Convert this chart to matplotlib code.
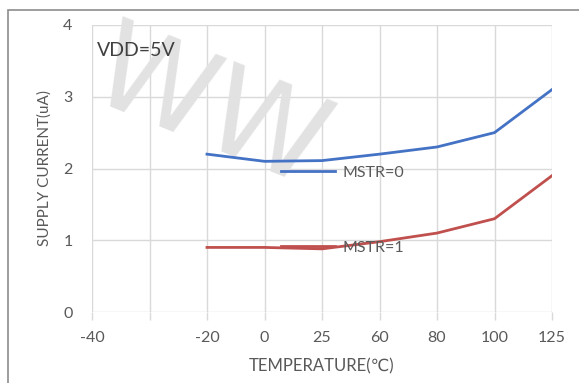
import matplotlib.pyplot as plt
from matplotlib.patches import Rectangle

# ---------------- datos del grafico ----------------
temp_labels = ["-40", "", "-20", "0", "25", "60", "80", "100", "125"]
mstr0 = [2.20, 2.10, 2.11, 2.20, 2.30, 2.50, 3.10]   # desde -20 hasta 125
mstr1 = [0.90, 0.90, 0.88, 0.98, 1.10, 1.30, 1.90]
y_ticks = [0, 1, 2, 3, 4]

plt.rcParams['font.family'] = ['Lato', 'DejaVu Sans']

blue = '#4472C4'
red = '#C0504D'
grid = '#d9d9d9'
txt = '#595959'

fig = plt.figure(figsize=(5.79, 3.83), dpi=100)
ax = fig.add_axes([92 / 579, 1 - 312 / 383, 460 / 579, 287 / 383])

pos = list(range(len(temp_labels)))
start = len(temp_labels) - len(mstr0)
l0, = ax.plot(pos[start:], mstr0, color=blue, lw=2.0, zorder=4)
l1, = ax.plot(pos[start:], mstr1, color=red, lw=2.0, zorder=4)

ax.set_xlim(pos[0], pos[-1])
ax.set_ylim(y_ticks[0], y_ticks[-1])
ax.set_xticks(pos)
ax.set_xticklabels(temp_labels)
ax.set_yticks(y_ticks)
ax.grid(True, color=grid, lw=1.0)
for s in ax.spines.values():
    s.set_visible(False)
ax.tick_params(axis='x', length=6, width=1, color=grid, pad=8,
               labelsize=11.5, labelcolor=txt)
ax.tick_params(axis='y', length=0, pad=14, labelsize=11.5, labelcolor=txt)

ax.set_xlabel('TEMPERATURE(℃)', fontsize=12, color=txt, labelpad=9)
ax.set_ylabel('SUPPLY CURRENT(uA)', fontsize=11, color=txt, labelpad=8)

ax.text(0.01, 0.91, 'VDD=5V', transform=ax.transAxes, fontsize=14,
        color='#404040', va='center', ha='left', zorder=5)

leg = ax.legend([l0, l1], ['MSTR=0', 'MSTR=1'], loc='upper left',
                bbox_to_anchor=(0.41, 0.51), frameon=False, fontsize=11.5,
                labelspacing=3.8, handlelength=3.4, handletextpad=0.5,
                borderpad=0, borderaxespad=0)
for t in leg.get_texts():
    t.set_color(txt)

# marco exterior del grafico
fig.patches.append(Rectangle((8 / 579, -0.1), 1.2, 1 - 10 / 383 + 0.1,
                             transform=fig.transFigure, fill=False,
                             edgecolor='#8c8c8c', lw=1.2, zorder=0))

# marca de agua
ax.text(210 / 579, 1 - 112 / 383, 'WW', transform=fig.transFigure,
        fontsize=88, family='Liberation Sans Narrow', rotation=-22,
        color='#e2e2e2', ha='center', va='center', zorder=2, clip_on=False)

fig.savefig('out.png', dpi=100)
